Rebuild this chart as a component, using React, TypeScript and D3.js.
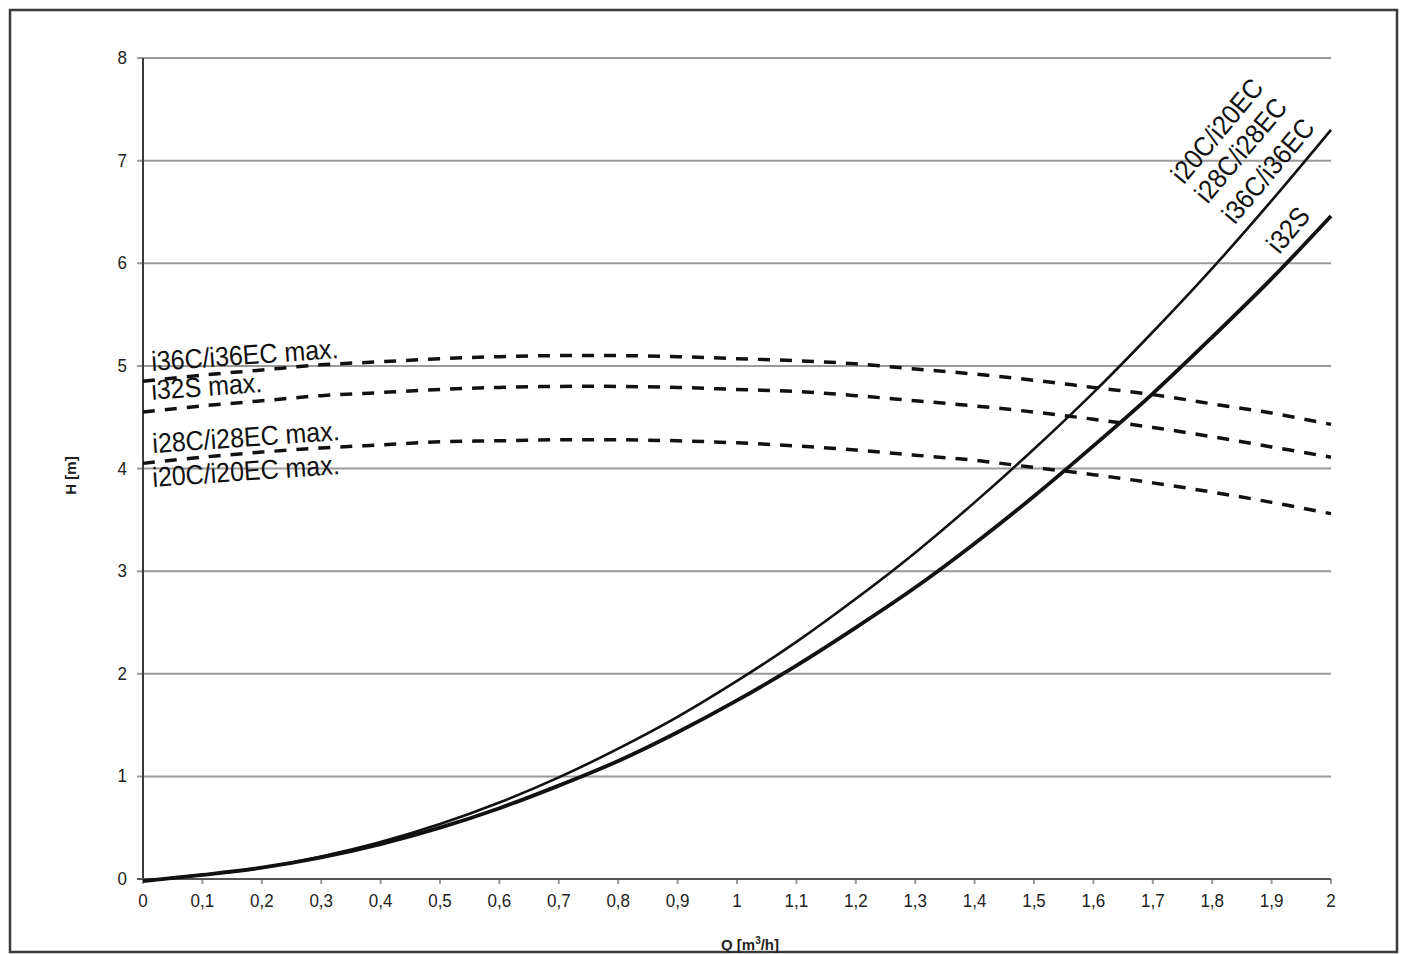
import React, { useEffect, useRef } from 'react';
import * as d3 from 'd3';

// flow rate Q [m3/h]
const flow = [0, 0.1, 0.2, 0.3, 0.4, 0.5, 0.6, 0.7, 0.8, 0.9, 1, 1.1, 1.2, 1.3, 1.4, 1.5, 1.6, 1.7, 1.8, 1.9, 2];

// system curves H [m]
const headC = [-0.02, 0.04, 0.11, 0.22, 0.36, 0.535, 0.745, 0.99, 1.27, 1.58, 1.93, 2.31, 2.73, 3.18, 3.67, 4.19, 4.74, 5.33, 5.95, 6.61, 7.3];
const headS = [-0.02, 0.04, 0.11, 0.21, 0.34, 0.5, 0.69, 0.91, 1.15, 1.43, 1.74, 2.08, 2.45, 2.84, 3.27, 3.73, 4.22, 4.73, 5.28, 5.85, 6.46];

// max pump curves H [m]
const maxI36 = [4.85, 4.91, 4.96, 5.01, 5.04, 5.07, 5.09, 5.1, 5.1, 5.09, 5.07, 5.05, 5.02, 4.97, 4.92, 4.86, 4.79, 4.72, 4.63, 4.54, 4.43];
const maxI32S = [4.55, 4.61, 4.66, 4.71, 4.74, 4.77, 4.79, 4.8, 4.8, 4.79, 4.77, 4.75, 4.71, 4.66, 4.61, 4.55, 4.48, 4.4, 4.31, 4.21, 4.11];
const maxI28 = [4.05, 4.11, 4.16, 4.2, 4.23, 4.26, 4.27, 4.28, 4.28, 4.27, 4.25, 4.22, 4.18, 4.13, 4.08, 4.01, 3.94, 3.86, 3.77, 3.67, 3.56];

const xTickLabels = ['0', '0,1', '0,2', '0,3', '0,4', '0,5', '0,6', '0,7', '0,8', '0,9', '1', '1,1', '1,2', '1,3', '1,4', '1,5', '1,6', '1,7', '1,8', '1,9', '2'];
const yTicks = [0, 1, 2, 3, 4, 5, 6, 7, 8];

const curveNames = ['i20C/i20EC', 'i28C/i28EC', 'i36C/i36EC', 'i32S'];
const maxNames = ['i36C/i36EC max.', 'i32S max.', 'i28C/i28EC max.', 'i20C/i20EC max.'];

const App = () => {
    const domref = useRef(null);
    const width = 1406;
    const height = 954;
    const font = 'Arial, "Liberation Sans", sans-serif';

    useEffect(() => {
        d3.select(domref.current).selectAll('svg').remove();

        const x = d3.scaleLinear().domain([0, 2]).range([143, 1331]);
        const y = d3.scaleLinear().domain([0, 8]).range([879, 58]);

        const svg = d3.select(domref.current)
            .append('svg')
            .attr('width', width)
            .attr('height', height)
            .style('display', 'block')
            .style('background', '#fff');

        // outer frame
        svg.append('rect')
            .attr('x', 10).attr('y', 10)
            .attr('width', 1387).attr('height', 942)
            .attr('fill', 'none')
            .attr('stroke', '#3a3a3a')
            .attr('stroke-width', 2.5);

        // horizontal grid
        svg.append('g')
            .selectAll('line')
            .data(yTicks.filter(d => d > 0))
            .join('line')
            .attr('x1', x(0) - 6).attr('x2', x(2))
            .attr('y1', d => y(d)).attr('y2', d => y(d))
            .attr('stroke', '#9a9a9a')
            .attr('stroke-width', 2);

        // x ticks
        svg.append('g')
            .selectAll('line')
            .data(flow)
            .join('line')
            .attr('x1', d => x(d)).attr('x2', d => x(d))
            .attr('y1', y(0)).attr('y2', y(0) + 5)
            .attr('stroke', '#9a9a9a')
            .attr('stroke-width', 2);

        // axes
        svg.append('line')
            .attr('x1', x(0)).attr('x2', x(0))
            .attr('y1', y(8)).attr('y2', y(0))
            .attr('stroke', '#3a3a3a').attr('stroke-width', 2);
        svg.append('line')
            .attr('x1', x(0) - 6).attr('x2', x(2))
            .attr('y1', y(0)).attr('y2', y(0))
            .attr('stroke', '#555').attr('stroke-width', 2);

        // tick labels
        svg.append('g')
            .attr('font-family', font)
            .attr('font-size', 17)
            .attr('fill', '#222')
            .attr('text-anchor', 'end')
            .selectAll('text')
            .data(yTicks)
            .join('text')
            .attr('transform', d => `translate(${x(0) - 16},${y(d) + 6}) scale(1,1.08)`)
            .text(d => d);

        svg.append('g')
            .attr('font-family', font)
            .attr('font-size', 17)
            .attr('fill', '#222')
            .attr('text-anchor', 'middle')
            .selectAll('text')
            .data(flow)
            .join('text')
            .attr('transform', d => `translate(${x(d)},907) scale(1,1.08)`)
            .text((d, i) => xTickLabels[i]);

        // axis titles
        svg.append('text')
            .attr('transform', `translate(76,${(y(0) + y(8)) / 2 + 7}) rotate(-90)`)
            .attr('text-anchor', 'middle')
            .attr('font-family', font)
            .attr('font-weight', 'bold')
            .attr('font-size', 15)
            .attr('fill', '#222')
            .text('H [m]');

        const qt = svg.append('text')
            .attr('x', 750).attr('y', 950)
            .attr('text-anchor', 'middle')
            .attr('font-family', font)
            .attr('font-weight', 'bold')
            .attr('font-size', 15)
            .attr('fill', '#222');
        qt.append('tspan').text('Q [m');
        qt.append('tspan').attr('font-size', 10).attr('dy', -6).text('3');
        qt.append('tspan').attr('dy', 6).text('/h]');

        const line = d3.line<number>()
            .x((d, i) => x(flow[i]))
            .y(d => y(d))
            .curve(d3.curveCatmullRom);

        // dashed max curves
        svg.append('g')
            .attr('fill', 'none')
            .attr('stroke', '#111')
            .attr('stroke-width', 3.5)
            .attr('stroke-dasharray', '12 10')
            .selectAll('path')
            .data([maxI36, maxI32S, maxI28])
            .join('path')
            .attr('d', d => line(d));

        // system curves
        svg.append('path')
            .attr('d', line(headC))
            .attr('fill', 'none')
            .attr('stroke', '#111')
            .attr('stroke-width', 2.6);
        svg.append('path')
            .attr('d', line(headS))
            .attr('fill', 'none')
            .attr('stroke', '#111')
            .attr('stroke-width', 3.8);

        // labels of the max curves
        const maxAnchors = [[0.015, 4.95], [0.015, 4.67], [0.017, 4.15], [0.017, 3.82]];
        svg.append('g')
            .attr('font-family', font)
            .attr('font-size', 25)
            .attr('fill', '#111')
            .selectAll('text')
            .data(maxNames)
            .join('text')
            .attr('transform', (d, i) => `translate(${x(maxAnchors[i][0])},${y(maxAnchors[i][1])}) rotate(-4) scale(1,1.1)`)
            .text(d => d);

        // labels of the system curves
        const curveAnchors = [[1.752, 6.76], [1.792, 6.57], [1.838, 6.37], [1.913, 6.08]];
        svg.append('g')
            .attr('font-family', font)
            .attr('font-size', 25)
            .attr('fill', '#111')
            .selectAll('text')
            .data(curveNames)
            .join('text')
            .attr('transform', (d, i) => `translate(${x(curveAnchors[i][0])},${y(curveAnchors[i][1])}) rotate(-50) scale(1,1.1)`)
            .text(d => d);
    }, []);

    return (
        <div ref={domref} style={{ position: 'absolute', left: 0, top: 0 }}></div>
    );
};

export default App;
